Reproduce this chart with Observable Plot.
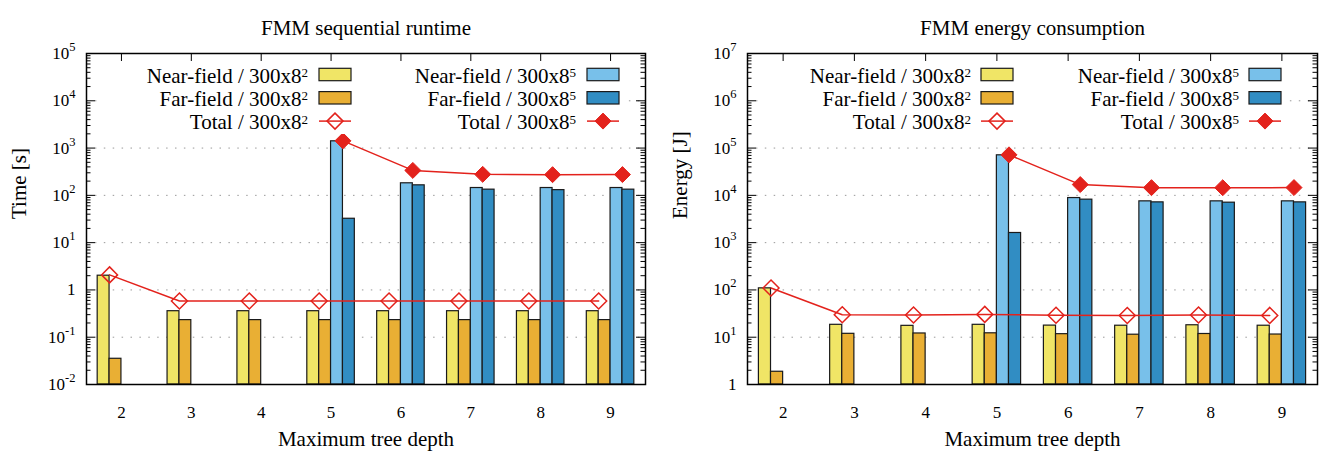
<!DOCTYPE html>
<html><head><meta charset="utf-8">
<script src="https://cdn.jsdelivr.net/npm/d3@7"></script>
<script src="https://cdn.jsdelivr.net/npm/@observablehq/plot@0.6"></script>
<style>
body{margin:0;background:#fff;}
#wrap{display:flex;width:1319px;height:460px;overflow:hidden;}
#wrap svg{flex:none;}
</style></head><body><div id="wrap"></div>
<script>
// ---- data ----
const depths = [2, 3, 4, 5, 6, 7, 8, 9];
const depthsBig = [5, 6, 7, 8, 9];

const timeNear2  = [2.0, 0.355, 0.355, 0.355, 0.355, 0.355, 0.355, 0.355];
const timeFar2   = [0.035, 0.23, 0.23, 0.23, 0.23, 0.23, 0.23, 0.23];
const timeTotal2 = [2.08, 0.585, 0.585, 0.585, 0.585, 0.585, 0.585, 0.585];
const timeNear5  = [1390, 180, 143, 143, 143];
const timeFar5   = [32, 163, 132, 129, 132];
const timeTotal5 = [1420, 337, 278, 274, 275];

const energyNear2  = [108, 18.3, 17.4, 18.3, 17.6, 17.5, 17.9, 17.5];
const energyFar2   = [1.86, 11.8, 12.0, 12.1, 11.6, 11.3, 11.7, 11.4];
const energyTotal2 = [110, 29.9, 29.4, 30.4, 29.2, 28.8, 29.6, 28.9];
const energyNear5  = [70300, 8770, 7470, 7470, 7470];
const energyFar5   = [1600, 8110, 7110, 7000, 7110];
const energyTotal5 = [71900, 16900, 14560, 14500, 14600];

const legendCol1 = ["Near-field / 300x8^2", "Far-field / 300x8^2", "Total / 300x8^2"];
const legendCol2 = ["Near-field / 300x8^5", "Far-field / 300x8^5", "Total / 300x8^5"];
const xLabel = "Maximum tree depth";

// ---- style ----
const FONT = '"Liberation Serif", "Times New Roman", serif';
const RED = "#e3221c";
const C_NEAR2 = "#f0e566", C_FAR2 = "#e9af34", C_NEAR5 = "#78c0ea", C_FAR5 = "#318dc3";
const BW = 0.17;
const H = 460, MT = 53, MB = 76;

function rows(xs, vals) { return xs.map((d, i) => ({d, v: vals[i]})); }

function supText(sel, str, supSize, supDy) {
  const parts = str.split("^");
  sel.text(null);
  sel.append("tspan").text(parts[0]);
  if (parts.length > 1) sel.append("tspan").attr("font-size", supSize).style("font-size", supSize).attr("dy", supDy).text(parts[1]);
}

function chart(cfg) {
  const {width, ml, mr, yDomain, yLabel, title, n2, f2, t2, n5, f5, t5, leg} = cfg;
  const plotW = width - ml - mr, plotH = H - MT - MB;
  const k0 = Math.round(Math.log10(yDomain[0])), k1 = Math.round(Math.log10(yDomain[1]));
  const decades = d3.range(k0, k1 + 1).map(k => +("1e" + k));
  const minors = [];
  for (let k = k0; k < k1; k++) for (let m = 2; m <= 9; m++) minors.push(+(m + "e" + k));
  const fmt = d => { const k = Math.round(Math.log10(d)); return k === 0 ? "1" : "10^" + k; };
  const yMin = yDomain[0];
  const bar = (data, slot, fill) => Plot.rect(data, {
    x1: r => r.d + (slot - 2) * BW, x2: r => r.d + (slot - 1) * BW,
    y1: () => yMin, y2: "v", fill, stroke: "#1a1a1a", strokeWidth: 1.2
  });
  const s2 = rows(depths, t2), s5 = rows(depthsBig, t5);
  const svg = Plot.plot({
    width, height: H, marginLeft: ml, marginRight: mr, marginTop: MT, marginBottom: MB,
    style: {fontFamily: FONT, fontSize: "17px", background: "white", color: "black"},
    x: {type: "linear", domain: [1.5, 9.5]},
    y: {type: "log", domain: yDomain},
    marks: [
      Plot.ruleY(decades.slice(1, -1), {stroke: "#999", strokeDasharray: "1.5,7.4", strokeWidth: 1}),
      bar(rows(depths, n2), 0, C_NEAR2),
      bar(rows(depths, f2), 1, C_FAR2),
      bar(rows(depthsBig, n5), 2, C_NEAR5),
      bar(rows(depthsBig, f5), 3, C_FAR5),
      Plot.line(s2, {x: r => r.d - BW, y: "v", stroke: RED, strokeWidth: 1.5}),
      Plot.dot(s2, {x: r => r.d - BW, y: "v", symbol: "diamond2", r: 7.2, fill: "none", stroke: RED, strokeWidth: 1.5}),
      Plot.line(s5, {x: r => r.d + BW, y: "v", stroke: RED, strokeWidth: 1.5}),
      Plot.dot(s5, {x: r => r.d + BW, y: "v", symbol: "diamond2", r: 7.2, fill: RED, stroke: RED, strokeWidth: 1}),
      // inward ticks
      Plot.tickY(minors, {y: d => d, insetRight: plotW - 4.5, stroke: "black"}),
      Plot.tickY(minors, {y: d => d, insetLeft: plotW - 4.5, stroke: "black"}),
      Plot.tickY(decades, {y: d => d, insetRight: plotW - 9, stroke: "black"}),
      Plot.tickY(decades, {y: d => d, insetLeft: plotW - 9, stroke: "black"}),
      Plot.tickX(depths, {x: d => d, insetBottom: plotH - 8, stroke: "black"}),
      Plot.frame({stroke: "black", strokeWidth: 1.5}),
      Plot.axisY({ticks: decades, tickSize: 0, tickPadding: 11, tickFormat: fmt, label: null, fontSize: 17}),
      Plot.axisX({ticks: depths, tickSize: 0, tickPadding: 21, tickFormat: d => String(d), label: null, fontSize: 17}),
      Plot.text([title], {text: d => d, frameAnchor: "top", dy: -33, fontSize: 21}),
      Plot.text([xLabel], {text: d => d, frameAnchor: "bottom", dy: 61, fontSize: 21}),
      Plot.text([yLabel], {text: d => d, frameAnchor: "left", dx: -67, rotate: -90, fontSize: 21})
    ]
  });
  const root = d3.select(svg);
  root.selectAll("text").attr("font-family", FONT).style("font-family", FONT);
  // tick label sizes + superscripts
  root.selectAll('g[aria-label="y-axis tick label"], g[aria-label="x-axis tick label"]')
    .attr("font-size", 17).style("font-size", "17px");
  root.selectAll('g[aria-label="y-axis tick label"] text, g[aria-label="x-axis tick label"] text')
    .attr("font-size", 17).style("font-size", "17px");
  root.selectAll('g[aria-label="y-axis tick label"] text').each(function() {
    const s = d3.select(this); supText(s, s.text(), "12.5px", -8);
  });
  // legend
  const g = root.append("g").attr("font-family", FONT).style("font-family", FONT).attr("font-size", 21).style("font-size", "21px");
  g.append("rect").attr("x", leg.boxX0).attr("y", 62).attr("width", leg.boxX1 - leg.boxX0).attr("height", 72).attr("fill", "white");
  const rowY = [74.5, 97.8, 121.1];
  const cols = [
    {labels: legendCol1, textEnd: leg.t1, sx: leg.s1, fills: [C_NEAR2, C_FAR2], open: true},
    {labels: legendCol2, textEnd: leg.t2, sx: leg.s2, fills: [C_NEAR5, C_FAR5], open: false}
  ];
  cols.forEach(c => {
    c.labels.forEach((lab, i) => {
      const t = g.append("text").attr("x", c.textEnd).attr("y", rowY[i] + 8).attr("text-anchor", "end");
      supText(t, lab, "13px", -5.5);
      if (i < 2) {
        g.append("rect").attr("x", c.sx).attr("y", rowY[i] - 6.2).attr("width", 32).attr("height", 12.4)
          .attr("fill", c.fills[i]).attr("stroke", "#1a1a1a").attr("stroke-width", 1.2);
      } else {
        g.append("line").attr("x1", c.sx).attr("x2", c.sx + 32).attr("y1", rowY[i]).attr("y2", rowY[i])
          .attr("stroke", RED).attr("stroke-width", 1.5);
        const cx = c.sx + 16, cy = rowY[i], r = 8;
        g.append("path").attr("d", `M${cx},${cy - r}L${cx + r},${cy}L${cx},${cy + r}L${cx - r},${cy}Z`)
          .attr("fill", c.open ? "none" : RED).attr("stroke", RED).attr("stroke-width", c.open ? 1.5 : 1);
      }
    });
  });
  return svg;
}

const wrap = document.getElementById("wrap");
wrap.append(chart({
  width: 660, ml: 86, mr: 15, yDomain: [1e-2, 1e5], yLabel: "Time [s]", title: "FMM sequential runtime",
  n2: timeNear2, f2: timeFar2, t2: timeTotal2, n5: timeNear5, f5: timeFar5, t5: timeTotal5,
  leg: {boxX0: 100, boxX1: 622, t1: 308, s1: 319, t2: 576, s2: 587}
}));
wrap.append(chart({
  width: 659, ml: 87, mr: 2, yDomain: [1, 1e7], yLabel: "Energy [J]", title: "FMM energy consumption",
  n2: energyNear2, f2: energyFar2, t2: energyTotal2, n5: energyNear5, f5: energyFar5, t5: energyTotal5,
  leg: {boxX0: 100, boxX1: 624, t1: 311, s1: 321, t2: 579, s2: 589}
}));
</script></body></html>
